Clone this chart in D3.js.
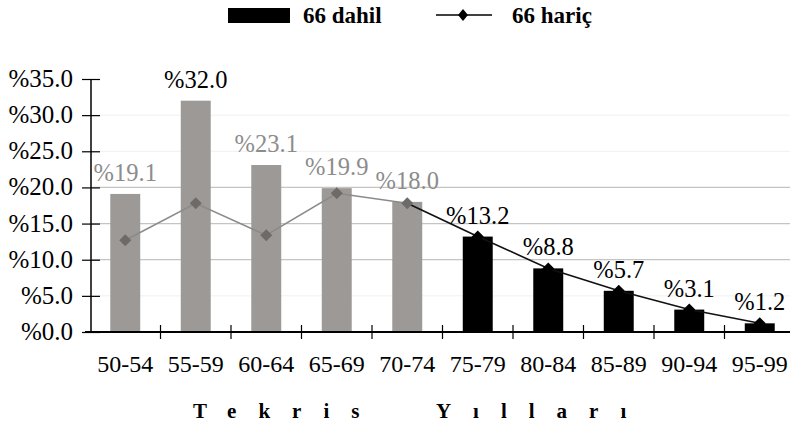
<!DOCTYPE html>
<html>
<head>
<meta charset="utf-8">
<script src="https://cdn.jsdelivr.net/npm/d3@7"></script>
<style>
  html, body { margin: 0; padding: 0; background: #fff; }
  svg { display: block; font-family: "Liberation Serif", "Times New Roman", serif; }
</style>
</head>
<body>
<svg id="chart" width="790" height="430"></svg>
<script>
// ---- data ----
const categories = ["50-54", "55-59", "60-64", "65-69", "70-74", "75-79", "80-84", "85-89", "90-94", "95-99"];
const dahil = [19.1, 32.0, 23.1, 19.9, 18.0, 13.2, 8.8, 5.7, 3.1, 1.2];   // bars: 66 dahil
const haric = [12.7, 17.8, 13.4, 19.2, 17.8, 13.2, 8.8, 5.7, 3.1, 1.2];   // line: 66 hariç
const yTicks = [0, 5, 10, 15, 20, 25, 30, 35];
const firstBlack = "75-79";
const legendLabels = ["66 dahil", "66 hariç"];
const axisTitle = "Tekris\u00a0\u00a0Yılları";

// ---- setup ----
const svg = d3.select("#chart");
const x = d3.scaleBand().domain(categories).range([90, 795]).paddingInner(0.575).paddingOuter(0.2875);
const y = d3.scaleLinear().domain([0, 35]).range([332, 79]);
const blackStart = categories.indexOf(firstBlack);
const GREY = "#9d9996", GREY_TXT = "#8c8c8c";
const fmt = v => "%" + v.toFixed(1);

// gridlines
const gridStrong = [10, 15, 20], gridFaint = [5, 25, 30];
svg.append("g").selectAll("line").data(gridFaint).join("line")
  .attr("x1", 92).attr("x2", 790).attr("y1", d => y(d)).attr("y2", d => y(d))
  .attr("stroke", "#f0f0f0").attr("stroke-width", 1);
svg.append("g").selectAll("line").data(gridStrong).join("line")
  .attr("x1", 92).attr("x2", 790).attr("y1", d => y(d)).attr("y2", d => y(d))
  .attr("stroke", "#c4c4c4").attr("stroke-width", 1.2);

// bars
svg.append("g").selectAll("rect").data(categories).join("rect")
  .attr("x", d => x(d)).attr("width", x.bandwidth())
  .attr("y", (d, i) => y(dahil[i])).attr("height", (d, i) => y(0) - y(dahil[i]))
  .attr("fill", (d, i) => i < blackStart ? GREY : "#000");

// line (grey part then black part)
const line = d3.line().x(d => x(d[0]) + x.bandwidth() / 2).y(d => y(d[1]));
const pts = categories.map((c, i) => [c, haric[i]]);
svg.append("path").datum(pts.slice(0, blackStart))
  .attr("d", line).attr("fill", "none").attr("stroke", "#8a8a8a").attr("stroke-width", 1.6);
svg.append("path").datum(pts.slice(blackStart - 1))
  .attr("d", line).attr("fill", "none").attr("stroke", "#111").attr("stroke-width", 1.6);

// markers
const diamond = "M0,-6L6,0L0,6L-6,0Z";
svg.append("g").selectAll("path").data(pts).join("path")
  .attr("d", diamond)
  .attr("transform", d => `translate(${x(d[0]) + x.bandwidth() / 2},${y(d[1])})`)
  .attr("fill", (d, i) => i < blackStart ? "#6e6a68" : "#000");

// data labels
svg.append("g").selectAll("text").data(categories).join("text")
  .attr("x", d => x(d) + x.bandwidth() / 2)
  .attr("y", (d, i) => y(dahil[i]) - 13)
  .attr("text-anchor", "middle")
  .attr("font-size", 24.5)
  .attr("fill", (d, i) => (i < blackStart && dahil[i] !== d3.max(dahil)) ? GREY_TXT : "#000")
  .text((d, i) => fmt(dahil[i]));

// y axis
const yAxis = d3.axisLeft(y).tickValues(yTicks).tickFormat(fmt).tickSize(9).tickPadding(9);
const gy = svg.append("g").attr("transform", "translate(91,0)").call(yAxis);
gy.select(".domain").attr("d", `M0,${y(35)}V${y(0)}`).attr("stroke", "#000").attr("stroke-width", 1.5);
gy.selectAll(".tick line").attr("x1", 9).attr("x2", -9).attr("stroke", "#000").attr("stroke-width", 1.2);
gy.selectAll(".tick text").attr("font-size", 25).attr("font-family", "Liberation Serif").attr("fill", "#000")
  .attr("x", -18).attr("dy", "0.3em");

// x axis
const xAxis = d3.axisBottom(x).tickSize(0).tickPadding(23);
const gx = svg.append("g").attr("transform", `translate(0,${y(0)})`).call(xAxis);
gx.select(".domain").attr("d", "M85,0H790").attr("stroke", "#000").attr("stroke-width", 2);
gx.selectAll(".tick text").attr("font-size", 24).attr("font-family", "Liberation Serif").attr("fill", "#000");
svg.append("g").selectAll("line").data(categories.slice(1)).join("line")
  .attr("x1", d => x(d) - x.step() * x.paddingInner() / 2)
  .attr("x2", d => x(d) - x.step() * x.paddingInner() / 2)
  .attr("y1", y(0) - 7).attr("y2", y(0) + 7)
  .attr("stroke", "#000").attr("stroke-width", 1.2);

// axis title
svg.append("text").attr("x", 193).attr("y", 418)
  .attr("font-size", 21).attr("font-weight", "bold").attr("letter-spacing", 22)
  .attr("fill", "#000").text(axisTitle);

// legend
const lg = svg.append("g");
lg.append("rect").attr("x", 228).attr("y", 8).attr("width", 62).attr("height", 15).attr("fill", "#000");
lg.append("text").attr("x", 303).attr("y", 23).attr("font-size", 23).attr("font-weight", "bold").text(legendLabels[0]);
lg.append("line").attr("x1", 436).attr("x2", 492).attr("y1", 15).attr("y2", 15).attr("stroke", "#000").attr("stroke-width", 1.6);
lg.append("path").attr("d", "M0,-6L5,0L0,6L-5,0Z").attr("transform", "translate(463,15)").attr("fill", "#000");
lg.append("text").attr("x", 512).attr("y", 23).attr("font-size", 23).attr("font-weight", "bold").text(legendLabels[1]);
</script>
</body>
</html>
